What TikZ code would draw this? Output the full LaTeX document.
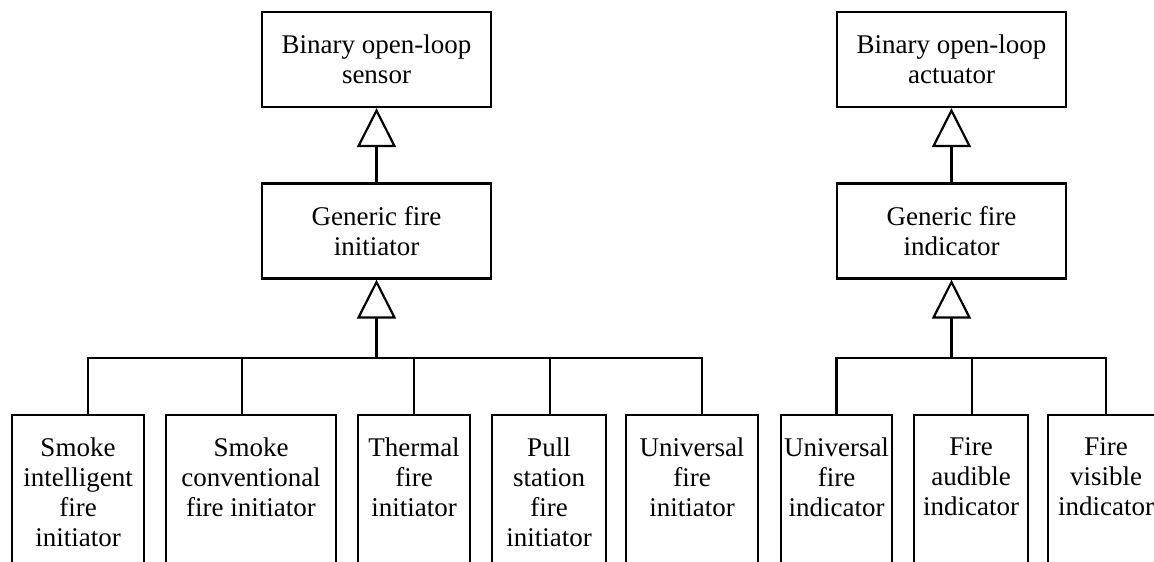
\documentclass[tikz,border=0pt]{standalone}
\usepackage{fontspec}
\setmainfont{Liberation Serif}
\usetikzlibrary{arrows.meta}

\begin{document}
\begin{tikzpicture}[x=1pt,y=1pt,
  line width=2.2pt,
  lbl/.style={font=\fontsize{27}{30}\selectfont, align=center, inner sep=0pt},
  upper/.style={draw, lbl, minimum width=229pt, minimum height=95pt},
  lower/.style={draw, anchor=north, minimum height=200pt, inner sep=0pt},
  lowertext/.style={lbl, anchor=north},
  gen/.style={-{Triangle[open,length=39pt,width=39pt,line width=2.2pt]}}]

  \useasboundingbox (0,0) rectangle (1154,562);
  \clip (0,0) rectangle (1154,562);

  % sensor side hierarchy
  \node[upper] (sensor) at (376.5,502.5) {Binary open-loop\\sensor};
  \node[upper] (initiator) at (376.5,331) {Generic fire\\initiator};
  \coordinate (jl) at (376.5,204);

  % actuator side hierarchy
  \node[upper] (actuator) at (951.5,502.5) {Binary open-loop\\actuator};
  \node[upper] (indicator) at (951.5,331) {Generic fire\\indicator};
  \coordinate (jr) at (951.5,204);

  % concrete initiators
  \node[lower, minimum width=132pt] (b1) at (78,148) {};
  \node[lower, minimum width=170pt] (b2) at (251,148) {};
  \node[lower, minimum width=112pt] (b3) at (414,148) {};
  \node[lower, minimum width=114pt] (b4) at (549,148) {};
  \node[lower, minimum width=132pt] (b5) at (692,148) {};

  % concrete indicators
  \node[lower, minimum width=111pt] (b6) at (836.5,148) {};
  \node[lower, minimum width=114pt] (b7) at (971,148) {};
  \node[lower, minimum width=116pt] (b8) at (1106,148) {};

  \node[lowertext] (t1) at ([yshift=-22.5pt]b1.north) {Smoke\\intelligent\\fire\\initiator};
  \node[lowertext] (t2) at ([yshift=-22.5pt]b2.north) {Smoke\\conventional\\fire initiator};
  \node[lowertext] (t3) at ([yshift=-22.5pt]b3.north) {Thermal\\fire\\initiator};
  \node[lowertext] (t4) at ([yshift=-22.5pt]b4.north) {Pull\\station\\fire\\initiator};
  \node[lowertext] (t5) at ([yshift=-22.5pt]b5.north) {Universal\\fire\\initiator};
  \node[lowertext] (t6) at ([yshift=-22.5pt]b6.north) {Universal\\fire\\indicator};
  \node[lowertext] (t7) at ([yshift=-22.5pt]b7.north) {Fire\\audible\\indicator};
  \node[lowertext] (t8) at ([yshift=-22.5pt]b8.north) {Fire\\visible\\indicator};

  % generalisation arrows
  \draw[gen] (initiator.north) -- (sensor.south);
  \draw[gen] (jl) -- (initiator.south);
  \draw[gen] (indicator.north) -- (actuator.south);
  \draw[gen] (jr) -- (indicator.south);

  % branch lines to the concrete classes
  \draw (jl) -| ([xshift=10pt]b1.north);
  \draw (jl) -| ([xshift=-9pt]b2.north);
  \draw (jl) -| (b3.north);
  \draw (jl) -| ([xshift=1pt]b4.north);
  \draw (jl) -| ([xshift=10pt]b5.north);
  \draw (jr) -| (b6.north);
  \draw (jr) -| ([xshift=1pt]b7.north);
  \draw (jr) -| (b8.north);
\end{tikzpicture}
\end{document}
